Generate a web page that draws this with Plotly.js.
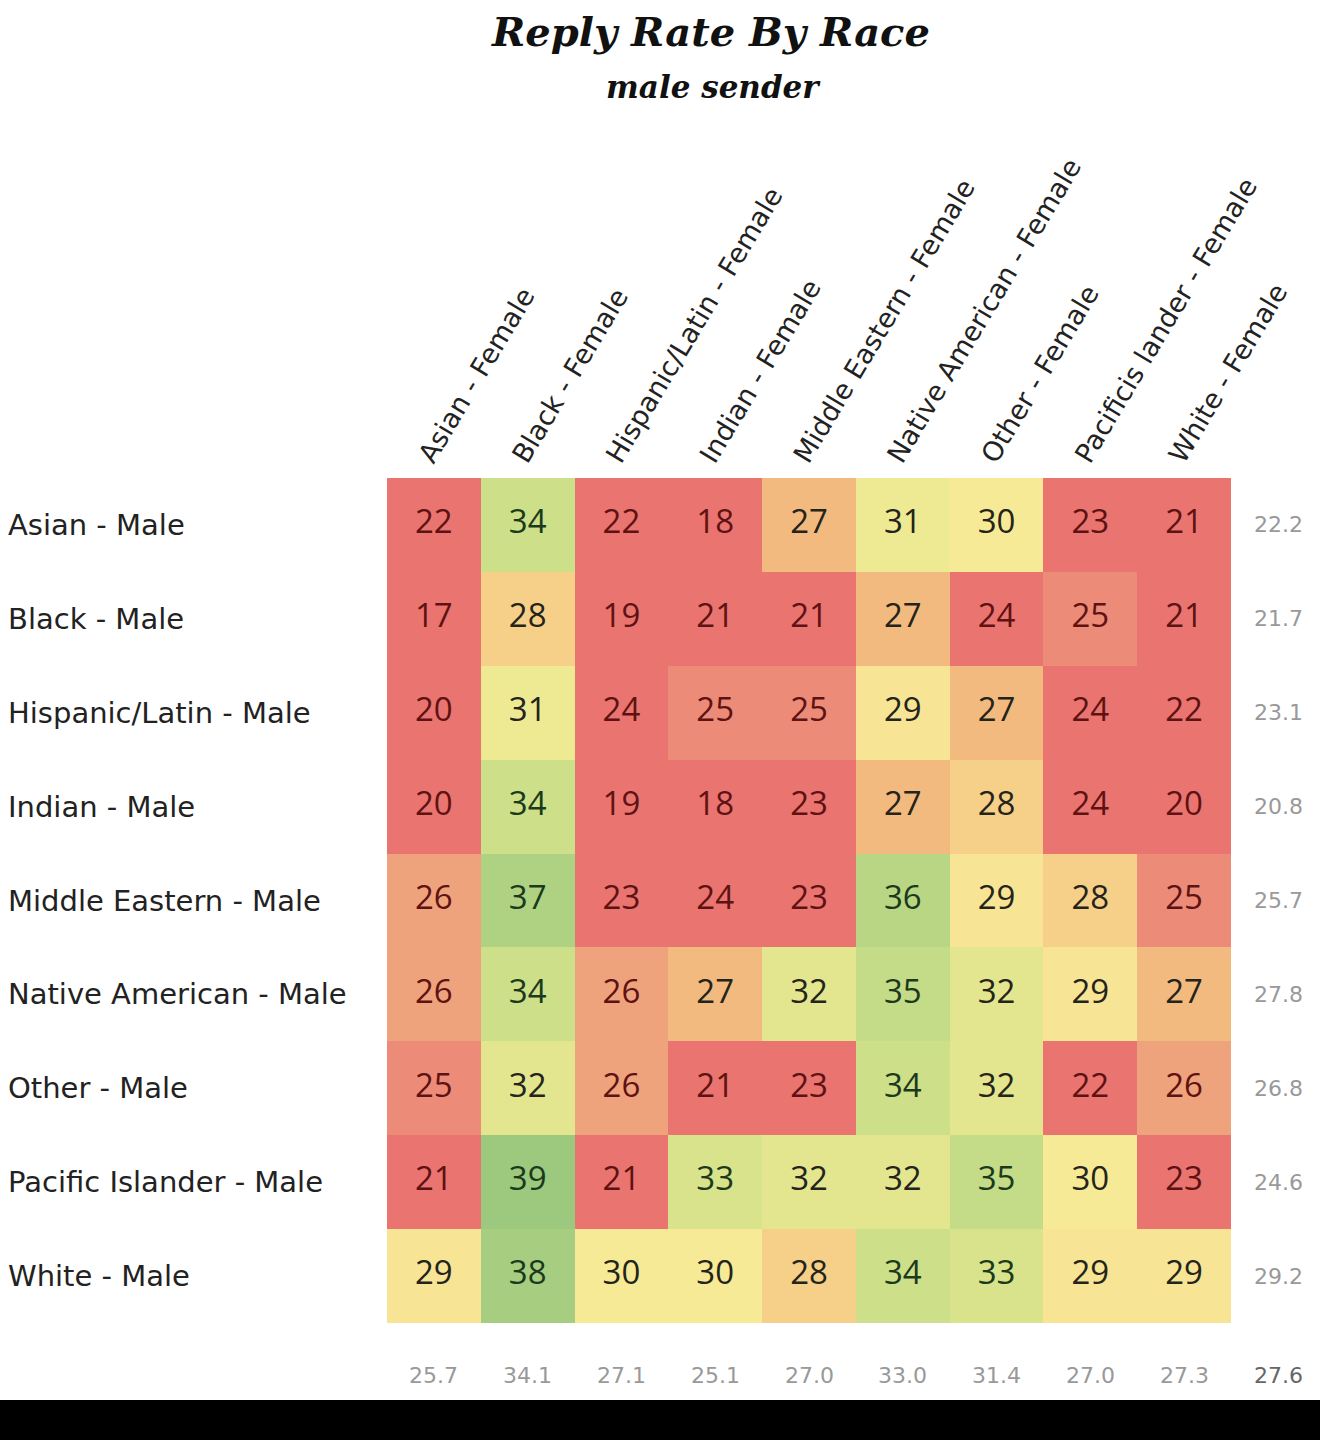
<!DOCTYPE html>
<html>
<head>
<meta charset="utf-8">
<script src="https://cdn.plot.ly/plotly-3.0.1.min.js"></script>
<style>
  html, body { margin: 0; padding: 0; background: #000; }
  #chart { width: 1320px; height: 1400px; background: #fff; }
</style>
</head>
<body>
<div id="chart"></div>
<script>
// Recipient (female) categories along the columns
const femaleCats = [
  "Asian - Female", "Black - Female", "Hispanic/Latin - Female", "Indian - Female",
  "Middle Eastern - Female", "Native American - Female", "Other - Female",
  "Pacificis lander - Female", "White - Female"
];

// Sender (male) categories down the rows
const maleCats = [
  "Asian - Male", "Black - Male", "Hispanic/Latin - Male", "Indian - Male",
  "Middle Eastern - Male", "Native American - Male", "Other - Male",
  "Pacific Islander - Male", "White - Male"
];

// Reply rate (%) for each male row / female column
const replyRates = [
  [22, 34, 22, 18, 27, 31, 30, 23, 21],
  [17, 28, 19, 21, 21, 27, 24, 25, 21],
  [20, 31, 24, 25, 25, 29, 27, 24, 22],
  [20, 34, 19, 18, 23, 27, 28, 24, 20],
  [26, 37, 23, 24, 23, 36, 29, 28, 25],
  [26, 34, 26, 27, 32, 35, 32, 29, 27],
  [25, 32, 26, 21, 23, 34, 32, 22, 26],
  [21, 39, 21, 33, 32, 32, 35, 30, 23],
  [29, 38, 30, 30, 28, 34, 33, 29, 29]
];

// Row and column totals
const rowAverages = ["22.2", "21.7", "23.1", "20.8", "25.7", "27.8", "26.8", "24.6", "29.2"];
const colAverages = ["25.7", "34.1", "27.1", "25.1", "27.0", "33.0", "31.4", "27.0", "27.3"];
const overallAverage = "27.6";

// Red -> orange -> yellow -> green scale, flat red for the lowest rates
const zMin = 17, zMax = 39;
const stop = v => (v - zMin) / (zMax - zMin);
const colorscale = [
  [0, "#E97470"],
  [stop(24), "#E97470"],
  [stop(25), "#EC8C78"],
  [stop(26), "#EFA37C"],
  [stop(27), "#F3BA80"],
  [stop(28), "#F6D088"],
  [stop(29), "#F8E495"],
  [stop(30), "#F6EA96"],
  [stop(31), "#EEEA94"],
  [stop(32), "#E3E68F"],
  [stop(33), "#D9E38C"],
  [stop(34), "#CEDF89"],
  [stop(36), "#B9D684"],
  [1, "#9CC97E"]
];

const labelFont = "DejaVu Sans, Verdana, sans-serif";
const cellFont = "Open Sans, sans-serif";

// Cell value labels, tinted to suit the cell colour
const txtX = [], txtY = [], txtS = [], txtC = [];
replyRates.forEach((row, r) => {
  row.forEach((v, c) => {
    txtX.push(femaleCats[c]);
    txtY.push(maleCats[r]);
    txtS.push(String(v));
    txtC.push(v <= 26 ? "#5e1212" : (v >= 33 ? "#1b3a1b" : "#24241a"));
  });
});

const heat = {
  type: "heatmap",
  x: femaleCats,
  y: maleCats,
  z: replyRates,
  zmin: zMin,
  zmax: zMax,
  colorscale: colorscale,
  showscale: false,
  hoverinfo: "skip"
};

const values = {
  type: "scatter",
  mode: "text",
  x: txtX,
  y: txtY,
  text: txtS,
  textposition: "middle center",
  textfont: { family: cellFont, size: 33, color: txtC },
  hoverinfo: "skip",
  showlegend: false
};

const annotations = [];

// Subtitle under the main title
annotations.push({
  xref: "paper", yref: "paper",
  x: (713 - 387) / 844, y: 1 + (478 - 87) / 845,
  xanchor: "center", yanchor: "middle",
  text: "<b><i>male sender</i></b>",
  showarrow: false,
  font: { family: "DejaVu Serif, serif", size: 31, color: "#111" }
});

// Row labels, left aligned at the page edge
maleCats.forEach(name => {
  annotations.push({
    xref: "paper", yref: "y",
    x: (6 - 387) / 844, y: name,
    xanchor: "left", yanchor: "middle",
    text: name, showarrow: false,
    font: { family: labelFont, size: 29, color: "#222" }
  });
});

// Row totals on the right
maleCats.forEach((name, i) => {
  annotations.push({
    xref: "paper", yref: "y",
    x: (1278 - 387) / 844, y: name,
    xanchor: "center", yanchor: "middle",
    text: rowAverages[i], showarrow: false,
    font: { family: labelFont, size: 22, color: "#999999" }
  });
});

// Column totals underneath
femaleCats.forEach((name, i) => {
  annotations.push({
    xref: "x", yref: "paper",
    x: name, y: -(1375 - 1323) / 845,
    xanchor: "center", yanchor: "middle",
    text: colAverages[i], showarrow: false,
    font: { family: labelFont, size: 22, color: "#999999" }
  });
});

// Grand total in the corner
annotations.push({
  xref: "paper", yref: "paper",
  x: (1278 - 387) / 844, y: -(1375 - 1323) / 845,
  xanchor: "center", yanchor: "middle",
  text: overallAverage, showarrow: false,
  font: { family: labelFont, size: 22, color: "#666666" }
});

const layout = {
  width: 1320,
  height: 1400,
  paper_bgcolor: "#ffffff",
  plot_bgcolor: "#ffffff",
  margin: { l: 387, r: 89, t: 478, b: 77, pad: 0 },
  title: {
    text: "<b><i>Reply Rate By Race</i></b>",
    x: 711 / 1320, xanchor: "center",
    y: 1 - 32 / 1400, yanchor: "middle",
    font: { family: "DejaVu Serif, serif", size: 40, color: "#111" }
  },
  xaxis: {
    side: "top",
    type: "category",
    tickangle: -59,
    showgrid: false, zeroline: false, showline: false,
    ticks: "", ticklabelstandoff: 0, ticklabelshift: -12,
    tickfont: { family: labelFont, size: 27, color: "#222" },
    fixedrange: true
  },
  yaxis: {
    type: "category",
    autorange: "reversed",
    showticklabels: false,
    showgrid: false, zeroline: false, showline: false,
    ticks: "",
    fixedrange: true
  },
  annotations: annotations,
  showlegend: false
};

Plotly.newPlot("chart", [heat, values], layout, { displayModeBar: false, staticPlot: true });
</script>
</body>
</html>
